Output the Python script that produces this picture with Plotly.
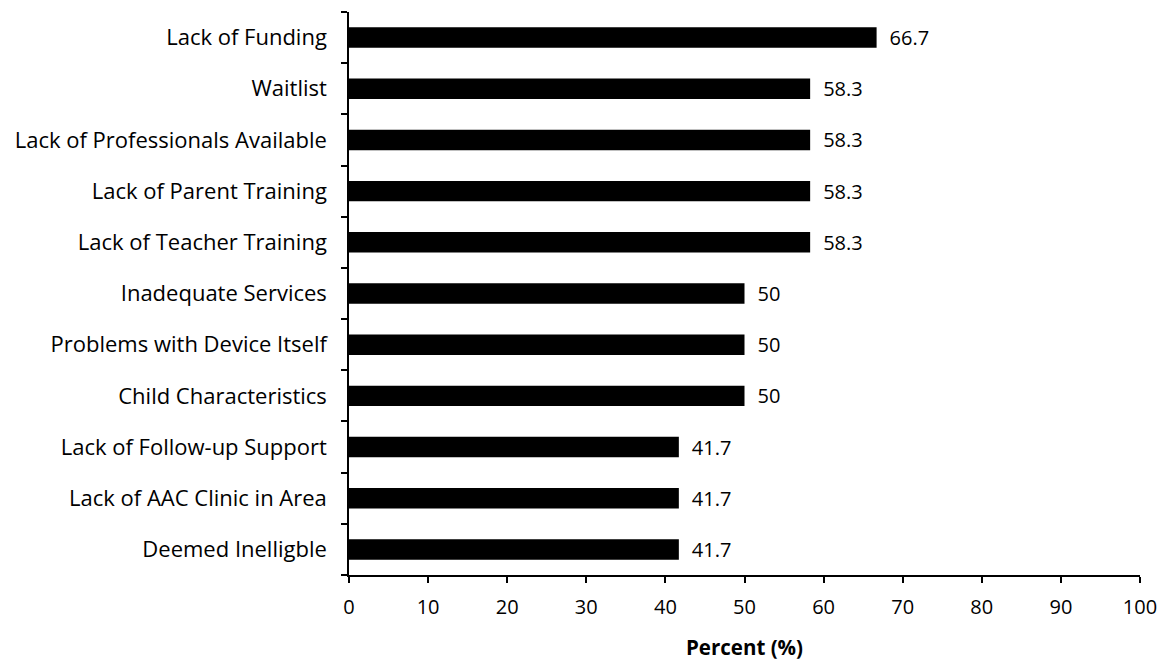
import plotly.graph_objects as go

# Barriers to AAC services, percent of respondents
categories = [
    "Lack of Funding",
    "Waitlist",
    "Lack of Professionals Available",
    "Lack of Parent Training",
    "Lack of Teacher Training",
    "Inadequate Services",
    "Problems with Device Itself",
    "Child Characteristics",
    "Lack of Follow-up Support",
    "Lack of AAC Clinic in Area",
    "Deemed Inelligble",
]
percent = [66.7, 58.3, 58.3, 58.3, 58.3, 50, 50, 50, 41.7, 41.7, 41.7]
x_ticks = [0, 10, 20, 30, 40, 50, 60, 70, 80, 90, 100]

FONT = "'Open Sans', sans-serif"

fig = go.Figure(
    go.Bar(
        x=percent,
        y=categories,
        orientation="h",
        marker=dict(color="black", line=dict(width=0)),
        text=[f"\u2002{v:g}" for v in percent],
        textposition="outside",
        constraintext="none",
        textfont=dict(family=FONT, size=20, color="black"),
        cliponaxis=False,
        width=0.4,
    )
)

fig.update_layout(
    width=1176,
    height=663,
    margin=dict(l=349, r=36, t=12, b=88),
    paper_bgcolor="white",
    plot_bgcolor="white",
    font=dict(family=FONT, size=20, color="black"),
    showlegend=False,
    uniformtext=dict(mode=False),
)

fig.update_xaxes(
    range=[0, 100],
    tickvals=x_ticks,
    ticktext=[str(t) for t in x_ticks],
    automargin=False,
    showgrid=False,
    zeroline=False,
    showline=True,
    linecolor="black",
    linewidth=1.5,
    ticks="outside",
    ticklen=6,
    tickwidth=1.5,
    tickcolor="black",
    ticklabelstandoff=7,
    tickfont=dict(family=FONT, size=20),
    title=dict(text="<b>Percent (%)</b>", font=dict(family=FONT, size=20.5), standoff=22),
)

fig.update_yaxes(
    categoryorder="array",
    categoryarray=categories[::-1],
    autorange=False,
    range=[-0.5, len(categories) - 0.5],
    automargin=False,
    showgrid=False,
    zeroline=False,
    showline=True,
    linecolor="black",
    linewidth=1.5,
    ticks="outside",
    tickson="boundaries",
    ticklen=6,
    tickwidth=1.5,
    tickcolor="black",
    ticklabelstandoff=16,
    tickfont=dict(family=FONT, size=22),
)

fig.write_html("out.html")
